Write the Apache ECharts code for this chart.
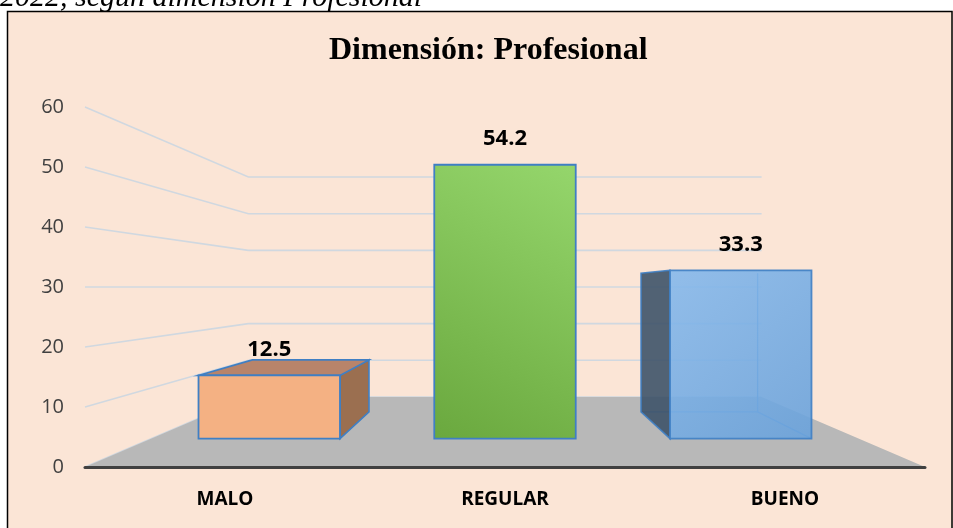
<!DOCTYPE html>
<html>
<head>
<meta charset="utf-8">
<script src="https://cdn.jsdelivr.net/npm/echarts@6/dist/echarts.min.js"></script>
<style>html,body{margin:0;padding:0;background:#fff;}#c{width:953px;height:528px;}</style>
</head>
<body>
<div id="c"></div>
<script>
// ---- data ----
const categories = ['MALO', 'REGULAR', 'BUENO'];
const values = [12.5, 54.2, 33.3];
const yTicks = [0, 10, 20, 30, 40, 50, 60];
const titleText = 'Dimensión: Profesional';
const captionText = '2022, según dimensión Profesional';

// ---- perspective settings (styles / geometry, not data) ----
const HORIZON_VALUE = 30;     // value whose gridline stays flat
const BAR_FRONT = 0.842;      // depth scale of bar front face
const BAR_BACK = 0.694;       // depth scale of bar back face
const WALL = 0.611;           // depth scale of back wall
const BAR_RATIO = 0.6;
const EDGE = '#3F7FC4';

const barStyles = [
  { front: '#F4B183', top: '#B8846A', side: '#9B6F50', opacity: 1 },
  { front: new echarts.graphic.LinearGradient(0, 1, 1, 0, [{offset: 0, color: '#6AA83E'}, {offset: 1, color: '#95D66C'}]),
    top: '#5E8F3A', side: '#4F7A30', opacity: 1 },
  { front: new echarts.graphic.LinearGradient(0, 0, 1, 1, [{offset: 0, color: '#86B9EC'}, {offset: 1, color: '#6AA2DB'}]),
    top: '#5A8CC4', side: '#3E5369', opacity: 0.9, transparent: true }
];

function P(p, s, vp) { return [vp[0] + s * (p[0] - vp[0]), vp[1] + s * (p[1] - vp[1])]; }
function vanish(api) { return api.coord([(categories.length - 1) / 2, HORIZON_VALUE]); }

function renderGrid(params, api) {
  const v = api.value(1);
  const cs = params.coordSys;
  const vp = vanish(api);
  const y = api.coord([0, v])[1];
  const fl = [cs.x, y];
  const wl = P(fl, WALL, vp);
  const wr = P([cs.x + cs.width, y], WALL, vp);
  return { type: 'polyline', shape: { points: [fl, wl, wr] },
    style: { stroke: '#D0D8E0', lineWidth: 1.6, fill: null } };
}

function renderFloor(params, api) {
  const cs = params.coordSys;
  const vp = vanish(api);
  const y0 = api.coord([0, 0])[1];
  const fl = [cs.x, y0], fr = [cs.x + cs.width, y0];
  return { type: 'polygon', shape: { points: [fl, fr, P(fr, WALL, vp), P(fl, WALL, vp)] },
    style: { fill: '#B8B8B8' } };
}

function renderBar(params, api) {
  const i = api.value(0), v = api.value(1);
  const vp = vanish(api);
  const base = api.coord([i, 0]), top = api.coord([i, v]);
  const half = api.size([1, 0])[0] * BAR_RATIO / 2;
  const corners = (s) => ({
    tl: P([base[0] - half, top[1]], s, vp), tr: P([base[0] + half, top[1]], s, vp),
    br: P([base[0] + half, base[1]], s, vp), bl: P([base[0] - half, base[1]], s, vp)
  });
  const F = corners(BAR_FRONT), B = corners(BAR_BACK);
  const st = barStyles[i];
  const children = [];
  if (st.transparent) {
    children.push({ type: 'polyline', shape: { points: [B.tr, B.br, B.bl] }, style: { stroke: '#5A94D2', lineWidth: 1.3, fill: null } });
    children.push({ type: 'line', shape: { x1: B.br[0], y1: B.br[1], x2: F.br[0], y2: F.br[1] }, style: { stroke: '#5A94D2', lineWidth: 1.3 } });
  }
  if (base[0] < vp[0] - 1) {
    children.push({ type: 'polygon', shape: { points: [F.tr, B.tr, B.br, F.br] }, style: { fill: st.side, stroke: EDGE, lineWidth: 1.6, opacity: st.opacity } });
  } else if (base[0] > vp[0] + 1) {
    children.push({ type: 'polygon', shape: { points: [F.tl, B.tl, B.bl, F.bl] }, style: { fill: st.side, stroke: EDGE, lineWidth: 1.6, opacity: st.opacity } });
  }
  if (top[1] > vp[1]) {
    children.push({ type: 'polygon', shape: { points: [F.tl, F.tr, B.tr, B.tl] }, style: { fill: st.top, stroke: EDGE, lineWidth: 1.6 } });
  }
  children.push({ type: 'polygon', shape: { points: [F.tl, F.tr, F.br, F.bl] }, style: { fill: st.front, stroke: EDGE, lineWidth: 1.8, opacity: st.opacity } });
  children.push({ type: 'text', style: { x: (F.tl[0] + F.tr[0]) / 2, y: F.tl[1] - 26, text: v.toFixed(1),
    align: 'center', verticalAlign: 'middle', font: 'bold 22px "Open Sans"', fill: '#000' } });
  return { type: 'group', children };
}

const chart = echarts.init(document.getElementById('c'), null, { renderer: 'canvas' });
chart.setOption({
  animation: false,
  backgroundColor: '#FBE5D6',
  title: { text: titleText, left: 329, top: 35, padding: 0,
    textStyle: { fontFamily: 'Liberation Serif', fontWeight: 'bold', fontSize: 32, color: '#000' } },
  grid: { left: 85, right: 28, top: 107, bottom: 61 },
  xAxis: { type: 'category', data: categories, z: 5,
    axisLine: { lineStyle: { color: '#404040', width: 3 } },
    axisTick: { show: false },
    axisLabel: { margin: 23, fontFamily: 'Open Sans', fontWeight: 'bold', fontSize: 19, color: '#000' },
    splitLine: { show: false } },
  yAxis: { type: 'value', min: 0, max: 60, interval: 10,
    axisLine: { show: false }, axisTick: { show: false }, splitLine: { show: false },
    axisLabel: { margin: 21, fontFamily: 'Open Sans', fontSize: 20, color: '#404040' } },
  graphic: [
    { type: 'rect', z: 100, shape: { x: 0, y: 0, width: 953, height: 11 }, style: { fill: '#fff' } },
    { type: 'rect', z: 100, shape: { x: 0, y: 0, width: 7, height: 528 }, style: { fill: '#fff' } },
    { type: 'polyline', z: 101, shape: { points: [[7.5, 530], [7.5, 11.5], [952, 11.5], [952, 530]] }, style: { stroke: '#000', lineWidth: 1.5, fill: null } },
    { type: 'text', z: 102, style: { x: 0, y: -2, text: captionText, font: 'italic 30px "Liberation Serif"', fill: '#000', verticalAlign: 'middle' } }
  ],
  series: [
    { type: 'custom', z: 1, renderItem: renderGrid, data: yTicks.map(v => [0, v]), silent: true },
    { type: 'custom', z: 2, renderItem: renderFloor, data: [[0, 0]], silent: true },
    { type: 'custom', z: 3, renderItem: renderBar, data: values.map((v, i) => [i, v]), silent: true }
  ]
});
</script>
</body>
</html>
